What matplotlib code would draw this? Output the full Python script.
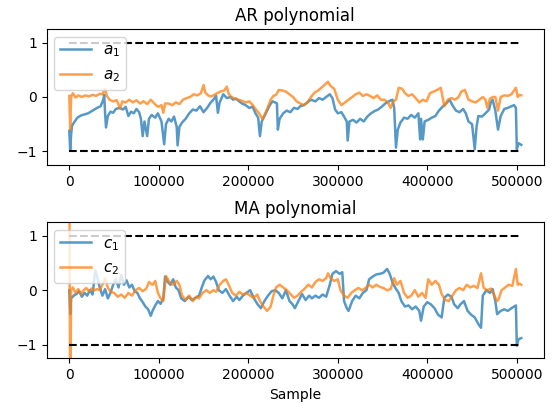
import numpy as np
import matplotlib
matplotlib.use("Agg")
import matplotlib.pyplot as plt

# Sample index (in thousands) and coefficient traces of the adaptive ARMA(2,2) fit
a1_k = [0, 1, 2, 3, 6, 9, 13, 17, 21, 25, 28, 31, 35, 38, 39, 40, 41, 43, 46, 49, 52, 56, 60, 63, 66, 69,
        72, 75, 78, 80, 82, 84, 87, 89, 92, 96, 99, 103, 106, 108, 111, 114, 117, 120, 121, 123, 126, 130,
        134, 138, 142, 146, 150, 154, 158, 161, 164, 166, 168, 172, 176, 180, 183, 186, 190, 193, 197, 201,
        205, 208, 211, 213, 215, 218, 221, 224, 227, 230, 232, 233, 235, 239, 243, 247, 251, 255, 258, 262,
        266, 270, 275, 279, 283, 287, 291, 294, 297, 300, 304, 307, 310, 311, 313, 317, 321, 325, 329, 333,
        337, 341, 345, 349, 353, 357, 361, 363, 365, 367, 370, 374, 378, 382, 386, 390, 392, 393, 395, 397,
        401, 405, 409, 413, 417, 421, 425, 428, 432, 436, 440, 443, 446, 450, 453, 455, 457, 461, 465, 469,
        471, 473, 476, 479, 482, 486, 490, 494, 497, 499, 500, 502, 505]
a1 = [-0.62, -0.99, -0.7, -0.53, -0.45, -0.38, -0.34, -0.32, -0.3, -0.26, -0.23, -0.2, -0.17, -0.05, 0.04,
      -0.3, -0.56, -0.35, -0.27, -0.29, -0.22, -0.2, -0.23, -0.18, -0.35, -0.27, -0.3, -0.22, -0.28, -0.4,
      -0.72, -0.45, -0.72, -0.4, -0.33, -0.38, -0.3, -0.45, -0.87, -0.5, -0.4, -0.45, -0.36, -0.55, -0.89,
      -0.55, -0.47, -0.4, -0.3, -0.23, -0.25, -0.17, -0.28, -0.2, -0.1, -0.05, 0.02, -0.29, -0.1, 0.05,
      -0.02, 0.0, -0.05, -0.03, -0.08, -0.12, -0.15, -0.2, -0.18, -0.3, -0.38, -0.72, -0.45, -0.35, -0.25,
      -0.15, -0.08, -0.1, -0.12, -0.6, -0.4, -0.3, -0.25, -0.28, -0.2, -0.22, -0.17, -0.15, -0.1, -0.05,
      -0.08, -0.02, -0.05, 0.0, 0.05, -0.02, -0.23, -0.3, -0.28, -0.36, -0.45, -0.8, -0.45, -0.42, -0.47,
      -0.4, -0.45, -0.36, -0.3, -0.26, -0.23, -0.18, -0.12, -0.08, -0.05, -0.2, -0.93, -0.6, -0.47, -0.38,
      -0.4, -0.33, -0.38, -0.3, -0.78, -0.4, -0.78, -0.45, -0.42, -0.38, -0.35, -0.25, -0.18, -0.12, -0.05,
      -0.15, -0.25, -0.28, -0.22, -0.3, -0.45, -0.5, -0.96, -0.55, -0.35, -0.36, -0.3, -0.23, -0.1, -0.05,
      -0.25, -0.6, -0.35, -0.22, -0.2, -0.17, -0.15, -0.2, -0.96, -0.85, -0.88]

a2_k = [0, 1, 2, 4, 7, 10, 14, 18, 22, 26, 30, 34, 37, 40, 42, 45, 49, 53, 57, 59, 63, 67, 71, 75, 79, 83,
        87, 91, 95, 99, 103, 105, 107, 111, 115, 119, 123, 127, 131, 135, 139, 143, 147, 150, 152, 155, 158,
        161, 165, 169, 173, 176, 178, 181, 185, 189, 193, 197, 201, 205, 208, 212, 216, 219, 222, 225, 228,
        231, 234, 238, 242, 246, 250, 254, 258, 262, 266, 270, 274, 278, 283, 289, 292, 296, 300, 304, 308,
        312, 316, 320, 324, 328, 332, 336, 340, 344, 348, 352, 356, 359, 362, 365, 368, 372, 375, 379, 383,
        387, 391, 395, 399, 403, 407, 411, 415, 419, 423, 427, 431, 435, 438, 442, 446, 450, 454, 458, 462,
        465, 467, 470, 473, 476, 479, 482, 486, 490, 494, 497, 499, 501, 503, 505]
a2 = [0.02, -0.6, 0.0, 0.07, -0.01, 0.03, 0.0, 0.03, 0.01, 0.04, 0.02, 0.06, 0.05, 0.15, 0.02, -0.05, -0.08,
      -0.06, -0.22, -0.08, -0.1, -0.05, -0.1, -0.06, -0.12, -0.08, -0.13, -0.05, -0.12, -0.18, -0.15, -0.29,
      -0.12, -0.12, -0.15, -0.1, -0.13, -0.05, -0.02, 0.0, 0.05, 0.03, 0.07, 0.22, 0.08, 0.03, 0.01, 0.03,
      0.07, 0.1, 0.12, 0.19, 0.06, 0.0, -0.03, -0.05, -0.07, -0.1, -0.08, -0.15, -0.22, -0.3, -0.41, -0.3,
      -0.18, -0.05, 0.02, 0.04, 0.13, 0.12, 0.1, 0.05, 0.0, -0.08, -0.12, -0.15, -0.1, 0.0, 0.08, 0.12, 0.19,
      0.28, 0.2, 0.15, -0.05, -0.15, -0.1, -0.05, 0.0, 0.05, 0.08, 0.02, 0.05, 0.02, -0.02, 0.03, -0.05,
      -0.05, -0.1, -0.2, -0.08, -0.05, 0.17, 0.15, 0.07, 0.02, 0.05, -0.02, -0.1, -0.05, -0.08, 0.07, 0.1,
      0.13, 0.17, -0.17, -0.05, -0.02, -0.05, 0.0, 0.1, 0.13, -0.05, -0.08, -0.1, -0.05, 0.0, -0.05, -0.2,
      -0.03, 0.0, 0.0, -0.25, 0.0, 0.03, 0.02, 0.05, 0.12, 0.17, 0.0, 0.04, 0.03]

c1_k = [0, 1, 2, 5, 8, 11, 14, 17, 20, 23, 26, 29, 31, 34, 37, 40, 43, 46, 49, 52, 55, 58, 61, 64, 67, 70,
        73, 76, 79, 82, 85, 88, 91, 93, 96, 99, 102, 105, 107, 110, 113, 116, 119, 122, 125, 129, 133, 137,
        141, 145, 148, 151, 155, 158, 161, 164, 167, 171, 175, 179, 183, 187, 190, 194, 198, 202, 206, 210,
        214, 218, 222, 226, 230, 234, 238, 242, 246, 249, 252, 256, 260, 264, 268, 271, 275, 279, 283, 287,
        291, 294, 298, 302, 305, 307, 310, 312, 316, 320, 324, 328, 332, 335, 339, 343, 347, 351, 355, 358,
        361, 364, 368, 371, 375, 379, 383, 387, 391, 393, 396, 400, 404, 408, 412, 416, 419, 423, 427, 430,
        434, 437, 441, 445, 449, 453, 457, 460, 462, 466, 470, 473, 476, 478, 482, 486, 490, 494, 497, 499,
        500, 502, 505]
c1 = [0.0, -0.44, -0.15, -0.1, -0.07, -0.02, -0.12, -0.05, -0.1, 0.0, -0.08, 0.36, 0.25, 0.05, -0.1, 0.02,
      -0.15, -0.05, 0.1, 0.2, 0.05, 0.28, 0.1, 0.18, 0.05, 0.1, -0.02, -0.05, -0.15, -0.22, -0.3, -0.35,
      -0.47, -0.38, -0.28, -0.2, -0.25, -0.15, 0.25, 0.15, 0.1, 0.2, 0.05, 0.0, -0.15, -0.2, -0.12, -0.18,
      -0.14, -0.1, 0.05, 0.18, 0.26, 0.2, 0.25, 0.15, 0.0, -0.05, 0.02, -0.1, -0.2, -0.12, -0.18, -0.1,
      -0.05, 0.0, -0.14, -0.25, -0.33, -0.2, -0.1, -0.02, 0.0, -0.05, -0.15, 0.0, -0.2, -0.25, -0.33, -0.2,
      -0.07, -0.18, -0.1, -0.15, -0.1, -0.14, -0.08, -0.12, 0.1, 0.3, 0.35, 0.3, 0.33, -0.2, -0.33, -0.38,
      -0.2, -0.1, -0.15, -0.05, 0.0, 0.2, 0.25, 0.29, 0.3, 0.32, 0.39, 0.3, 0.15, 0.05, -0.05, -0.2, -0.3,
      -0.28, -0.35, -0.3, -0.38, -0.56, -0.3, -0.22, -0.26, -0.33, -0.45, -0.5, -0.14, -0.08, -0.12, -0.26,
      -0.33, -0.26, -0.2, -0.38, -0.45, -0.5, -0.62, -0.69, -0.1, 0.0, -0.05, 0.02, -0.2, -0.44, -0.38,
      -0.35, -0.38, -0.33, -0.3, -0.28, -1.02, -0.9, -0.88]

c2_k = [0, 1, 2, 4, 7, 10, 13, 16, 19, 22, 25, 28, 31, 34, 37, 40, 43, 46, 50, 54, 58, 62, 66, 70, 74, 78,
        82, 86, 89, 93, 96, 99, 102, 105, 108, 112, 116, 120, 123, 126, 130, 134, 138, 142, 145, 149, 153,
        157, 161, 164, 168, 172, 175, 178, 182, 186, 190, 194, 198, 202, 206, 210, 213, 217, 221, 225, 228,
        231, 235, 239, 243, 247, 251, 255, 259, 263, 267, 271, 275, 279, 283, 287, 289, 292, 296, 300, 303,
        307, 311, 315, 319, 323, 327, 331, 335, 339, 343, 347, 351, 355, 359, 363, 366, 370, 374, 378, 382,
        386, 390, 394, 398, 401, 405, 409, 413, 416, 420, 424, 428, 432, 436, 440, 444, 448, 452, 456, 460,
        463, 467, 471, 474, 478, 480, 483, 487, 491, 495, 499, 501, 503, 505]
c2 = [2.5, -2.5, 0.0, 0.05, -0.05, 0.02, -0.07, 0.0, 0.04, -0.02, 0.03, 0.0, 0.02, 0.0, 0.1, 0.22, 0.05,
      -0.03, -0.05, -0.12, -0.08, -0.14, -0.05, -0.1, 0.0, 0.04, -0.02, 0.03, 0.15, 0.1, 0.17, -0.05, -0.15,
      -0.2, 0.26, 0.15, 0.1, 0.17, 0.1, -0.1, -0.18, -0.1, -0.2, -0.12, -0.15, -0.05, 0.0, -0.05, 0.0,
      -0.03, 0.1, 0.17, 0.2, 0.1, -0.05, -0.1, -0.03, -0.08, -0.05, -0.1, -0.14, -0.08, -0.2, -0.3, -0.38,
      -0.3, -0.1, 0.05, 0.1, 0.05, 0.0, -0.07, -0.14, -0.1, -0.03, 0.03, 0.1, 0.05, 0.15, 0.2, 0.17, 0.22,
      0.31, 0.22, 0.17, 0.2, 0.0, -0.1, -0.14, -0.05, 0.0, 0.04, 0.0, 0.04, 0.1, 0.05, 0.1, 0.06, 0.04, 0.0,
      0.02, 0.22, 0.1, 0.17, -0.05, -0.14, -0.1, 0.0, -0.12, -0.05, -0.14, 0.2, 0.1, 0.17, 0.1, -0.07, -0.18,
      -0.2, -0.1, 0.0, 0.04, 0.0, 0.1, 0.05, 0.08, 0.04, 0.31, 0.04, 0.0, 0.03, -0.07, -0.2, -0.15, 0.0,
      0.05, 0.1, 0.08, 0.39, 0.1, 0.12, 0.1]

stability_bounds = [-1, 1]
panels = [
    ("AR polynomial", [(a1_k, a1, "$a_1$"), (a2_k, a2, "$a_2$")]),
    ("MA polynomial", [(c1_k, c1, "$c_1$"), (c2_k, c2, "$c_2$")]),
]
colors = ["tab:blue", "tab:orange"]

fig = plt.figure(figsize=(5.58, 4.09), dpi=100)
ax_rects = [[0.0837, 0.5966, 0.891, 0.3325], [0.0837, 0.124, 0.891, 0.333]]

for rect, (title, series) in zip(ax_rects, panels):
    ax = fig.add_axes(rect)
    n_end = 0
    for (k, vals, lab), col in zip(series, colors):
        x = np.asarray(k, dtype=float) * 1000
        ax.plot(x, vals, color=col, alpha=0.75, lw=1.8, label=lab)
        n_end = max(n_end, x[-1])
    for b in stability_bounds:
        ax.plot([0, n_end], [b, b], "k--", lw=1.5)
    ax.set_xlim(-0.05 * n_end, 1.05 * n_end)
    ax.set_ylim(-1.25, 1.25)
    ax.set_yticks([-1, 0, 1])
    ax.set_xticks([0, 100000, 200000, 300000, 400000, 500000])
    ax.set_title(title)
    ax.legend(loc="upper left", fontsize=11)

ax.set_xlabel("Sample")
fig.savefig("out.png", dpi=100)
